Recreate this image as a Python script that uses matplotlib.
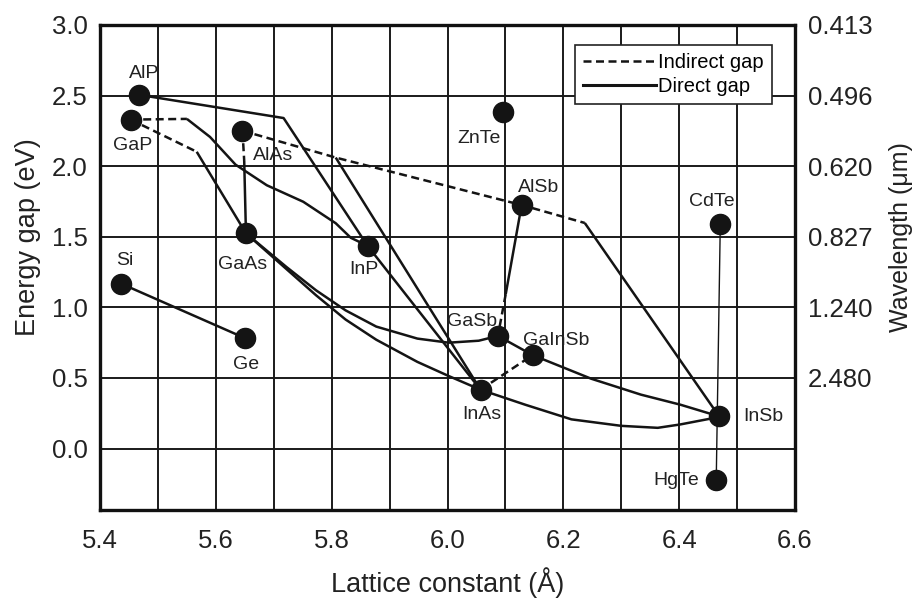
import matplotlib
matplotlib.use("Agg")
import matplotlib.pyplot as plt
from matplotlib.lines import Line2D

plt.rcParams['font.family'] = ['Liberation Sans', 'DejaVu Sans']

# ---- compounds (lattice constant, energy gap) ----
names = ["AlP", "GaP", "AlAs", "GaAs", "Si", "Ge", "InP", "ZnTe", "AlSb",
         "GaSb", "GaInSb", "InAs", "CdTe", "InSb", "HgTe"]
lat = [5.468, 5.453, 5.646, 5.652, 5.436, 5.651, 5.862, 6.096, 6.128,
       6.087, 6.147, 6.057, 6.471, 6.469, 6.464]
gap = [2.505, 2.33, 2.251, 1.525, 1.169, 0.781, 1.436, 2.383, 1.725,
       0.798, 0.662, 0.417, 1.591, 0.228, -0.224]

# label positions
lab_x = [5.477, 5.456, 5.699, 5.646, 5.443, 5.652, 5.856, 6.054, 6.157,
         6.042, 6.188, 6.060, 6.457, 6.546, 6.395]
lab_y = [2.657, 2.149, 2.075, 1.307, 1.329, 0.595, 1.271, 2.195, 1.851,
         0.900, 0.769, 0.242, 1.748, 0.225, -0.224]

# ---- alloy lines ----
# indirect (dashed) segments
ind_gap_gap_x = [5.453, 5.550];  ind_gap_gap_y = [2.33, 2.335]
ind_gap_gaas_x = [5.453, 5.567]; ind_gap_gaas_y = [2.33, 2.102]
ind_alas_gaas_x = [5.646, 5.649]; ind_alas_gaas_y = [2.251, 2.037]
ind_alas_alsb_x = [5.646, 5.807, 6.128, 6.237]
ind_alas_alsb_y = [2.251, 2.061, 1.725, 1.598]
ind_gasb_x = [6.1005, 6.087];    ind_gasb_y = [1.093, 0.798]
ind_inas_gainsb_x = [6.057, 6.147]; ind_inas_gainsb_y = [0.417, 0.662]

# direct (solid) segments
d_sige_x = [5.436, 5.651]; d_sige_y = [1.169, 0.781]
d_alp_inp_x = [5.468, 5.717, 5.862]; d_alp_inp_y = [2.505, 2.341, 1.436]
d_gap_inp_x = [5.550, 5.590, 5.634, 5.688, 5.751, 5.807, 5.833, 5.862]
d_gap_inp_y = [2.335, 2.207, 2.011, 1.865, 1.748, 1.596, 1.493, 1.436]
d_gap_gaas_x = [5.567, 5.652]; d_gap_gaas_y = [2.102, 1.525]
d_alas_gaas_x = [5.649, 5.652]; d_alas_gaas_y = [2.037, 1.525]
d_alas_inas_x = [5.807, 6.057]; d_alas_inas_y = [2.061, 0.417]
d_inp_inas_x = [5.862, 6.057]; d_inp_inas_y = [1.436, 0.417]
d_gaas_gasb_x = [5.652, 5.722, 5.773, 5.824, 5.877, 5.948, 6.002, 6.054, 6.087]
d_gaas_gasb_y = [1.525, 1.286, 1.121, 0.979, 0.864, 0.779, 0.750, 0.764, 0.798]
d_gaas_inas_x = [5.652, 5.722, 5.773, 5.824, 5.877, 5.948, 6.002, 6.057]
d_gaas_inas_y = [1.525, 1.271, 1.086, 0.914, 0.771, 0.614, 0.514, 0.417]
d_inas_insb_x = [6.057, 6.134, 6.214, 6.300, 6.363, 6.402, 6.454, 6.469]
d_inas_insb_y = [0.417, 0.311, 0.207, 0.161, 0.147, 0.171, 0.212, 0.228]
d_gasb_insb_x = [6.087, 6.147, 6.248, 6.334, 6.402, 6.469]
d_gasb_insb_y = [0.798, 0.662, 0.495, 0.382, 0.311, 0.228]
d_alsb_gasb_x = [6.128, 6.1005]; d_alsb_gasb_y = [1.725, 1.093]
d_alsb_insb_x = [6.237, 6.469]; d_alsb_insb_y = [1.598, 0.228]
d_cdte_hgte_x = [6.471, 6.464]; d_cdte_hgte_y = [1.591, -0.224]

x_ticks = [5.4, 5.6, 5.8, 6.0, 6.2, 6.4, 6.6]
x_grid = [5.4 + 0.1 * i for i in range(13)]
y_ticks = [0.0, 0.5, 1.0, 1.5, 2.0, 2.5, 3.0]
wl_pos = [3.0, 2.5, 2.0, 1.5, 1.0, 0.5]
wl_labels = ["0.413", "0.496", "0.620", "0.827", "1.240", "2.480"]

fig = plt.figure(figsize=(9.22, 6.01), dpi=100)
ax = fig.add_axes([100/922, 1-510/601, 695/922, 485/601])
ymin, ymax = -0.435, 3.0
ax.set_xlim(5.4, 6.6)
ax.set_ylim(ymin, ymax)

# grid
for gx in x_grid:
    ax.axvline(gx, color='#1a1a1a', lw=1.4, zorder=1)
for gy in y_ticks:
    ax.axhline(gy, color='#1a1a1a', lw=1.4, zorder=1)

col = '#141414'
dash = (0, (3.2, 1.8))
lw = 1.8
for xs, ys in [(ind_gap_gap_x, ind_gap_gap_y), (ind_gap_gaas_x, ind_gap_gaas_y),
               (ind_alas_gaas_x, ind_alas_gaas_y), (ind_alas_alsb_x, ind_alas_alsb_y),
               (ind_gasb_x, ind_gasb_y), (ind_inas_gainsb_x, ind_inas_gainsb_y)]:
    ax.plot(xs, ys, color=col, lw=lw, linestyle=dash, zorder=3)

for xs, ys in [(d_sige_x, d_sige_y), (d_alp_inp_x, d_alp_inp_y), (d_gap_inp_x, d_gap_inp_y),
               (d_gap_gaas_x, d_gap_gaas_y), (d_alas_gaas_x, d_alas_gaas_y),
               (d_alas_inas_x, d_alas_inas_y), (d_inp_inas_x, d_inp_inas_y),
               (d_gaas_gasb_x, d_gaas_gasb_y), (d_gaas_inas_x, d_gaas_inas_y),
               (d_inas_insb_x, d_inas_insb_y), (d_gasb_insb_x, d_gasb_insb_y),
               (d_alsb_gasb_x, d_alsb_gasb_y), (d_alsb_insb_x, d_alsb_insb_y)]:
    ax.plot(xs, ys, color=col, lw=lw, solid_capstyle='butt', zorder=3)
ax.plot(d_cdte_hgte_x, d_cdte_hgte_y, color=col, lw=1.0, zorder=3)

ax.plot(lat, gap, 'o', color=col, markersize=14.5, zorder=5)
for n, tx, ty in zip(names, lab_x, lab_y):
    ax.text(tx, ty, n, ha='center', va='center', fontsize=14, color='#222222', zorder=6)

ax.set_xticks(x_ticks)
ax.set_xticklabels([f"{v:.1f}" for v in x_ticks])
ax.set_yticks(y_ticks)
ax.set_yticklabels([f"{v:.1f}" for v in y_ticks])
ax.tick_params(axis='both', length=0, labelsize=18.5, colors='#222222')
ax.tick_params(axis='x', pad=14)
ax.tick_params(axis='y', pad=9)
for s in ax.spines.values():
    s.set_linewidth(2.4)
    s.set_color('#111111')
    s.set_zorder(7)

label_center = (1.5 - ymin) / (ymax - ymin)
ax.set_xlabel("Lattice constant (Å)", fontsize=19.5, labelpad=10, color='#222222')
ax.set_ylabel("Energy gap (eV)", fontsize=19.5, labelpad=8, color='#222222')
ax.yaxis.label.set_y(label_center)

ax2 = ax.twinx()
ax2.set_ylim(ax.get_ylim())
ax2.set_yticks(wl_pos)
ax2.set_yticklabels(wl_labels)
ax2.tick_params(axis='y', length=0, labelsize=18.5, pad=9, colors='#222222')
for s in ax2.spines.values():
    s.set_visible(False)
ax2.set_ylabel("Wavelength (μm)", fontsize=18, labelpad=12, color='#222222')
ax2.yaxis.label.set_y(label_center)

handles = [Line2D([], [], color=col, lw=lw, linestyle=dash),
           Line2D([], [], color=col, lw=2.2)]
leg = ax.legend(handles, ["Indirect gap", "Direct gap"], loc='upper right',
                bbox_to_anchor=(1 - 23/695, 1 - 20/485), fontsize=14.5,
                handlelength=3.6, handletextpad=0.12, borderpad=0.4,
                labelspacing=0.25, fancybox=False, framealpha=1,
                edgecolor='#222222', borderaxespad=0)
leg.get_frame().set_linewidth(1.2)
leg.set_zorder(8)

fig.savefig("out.png", dpi=100)
